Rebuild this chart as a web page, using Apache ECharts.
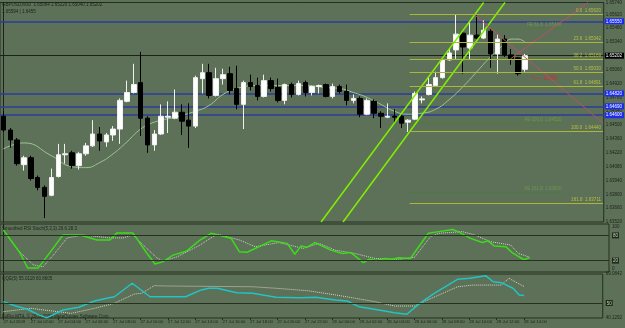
<!DOCTYPE html>
<html><head><meta charset="utf-8">
<script src="https://cdn.jsdelivr.net/npm/echarts@6/dist/echarts.min.js"></script>
<style>html,body{margin:0;padding:0;background:#5d7058;}#c{width:625px;height:328px;}</style>
</head><body><div id="c"></div>
<script>
// ---------- DATA ----------
const candleOpen  = [1.6459,1.6445,1.6435,1.6410,1.6417,1.6397,1.6387,1.6379,1.6398,1.6420,1.6422,1.6409,1.6421,1.6429,1.6441,1.6433,1.6440,1.6446,1.6474,1.6483,1.6493,1.6457,1.6430,1.6441,1.6458,1.6457,1.6463,1.6455,1.6449,1.6497,1.6503,1.6480,1.6497,1.6502,1.6487,1.6471,1.6493,1.6490,1.6479,1.6495,1.6488,1.6475,1.6491,1.6481,1.6493,1.6483,1.6489,1.6491,1.6479,1.6489,1.6484,1.6475,1.6477,1.6461,1.6474,1.6462,1.6458,1.6459,1.6459,1.6453,1.6456,1.64755,1.6481,1.6490,1.6498,1.6516,1.6526,1.6543,1.6528,1.6541,1.6538,1.6545,1.6522,1.6537,1.6521,1.6518,1.65064];
const candleClose = [1.6445,1.6435,1.6411,1.6417,1.6396,1.6387,1.6378,1.6397,1.6420,1.6421,1.6409,1.6421,1.6429,1.6441,1.6434,1.6440,1.6446,1.6475,1.6483,1.6491,1.6457,1.6430,1.6441,1.6459,1.6459,1.6463,1.6454,1.6449,1.6498,1.6503,1.6480,1.6497,1.6501,1.6485,1.6471,1.6493,1.6489,1.6479,1.6495,1.6487,1.6475,1.6491,1.6481,1.6492,1.6483,1.6489,1.6490,1.6479,1.6489,1.6484,1.6475,1.6477,1.6461,1.6475,1.6462,1.6459,1.6459,1.6458,1.6452,1.6455,1.6482,1.64765,1.6491,1.6498,1.6516,1.6523,1.6542,1.6529,1.6541,1.6538,1.6546,1.6522,1.6537,1.6521,1.6517,1.6502,1.65202];
const candleLow   = [1.6443,1.6427,1.6409,1.6404,1.6394,1.6384,1.6356,1.6378,1.6397,1.6411,1.6406,1.6405,1.6419,1.6428,1.6424,1.6428,1.6434,1.6431,1.6473,1.6482,1.6439,1.6422,1.6424,1.6440,1.6442,1.6456,1.6440,1.6427,1.6447,1.6482,1.6477,1.6479,1.6491,1.6481,1.6466,1.6446,1.6485,1.6475,1.6478,1.6484,1.6473,1.6471,1.6478,1.6480,1.6479,1.6480,1.6482,1.6478,1.6477,1.6482,1.6470,1.6472,1.6458,1.6460,1.6457,1.6447,1.6457,1.6452,1.6447,1.6443,1.6455,1.6472,1.6480,1.6489,1.6497,1.6515,1.6517,1.6502,1.6516,1.6537,1.6537,1.6508,1.6502,1.6519,1.6511,1.6500,1.65040];
const candleHigh  = [1.6464,1.6447,1.6437,1.6419,1.6419,1.6399,1.6389,1.6406,1.6431,1.6431,1.6424,1.6423,1.6432,1.6455,1.6448,1.6442,1.6449,1.6477,1.6495,1.6512,1.6524,1.6459,1.6445,1.6471,1.6474,1.6486,1.6471,1.6472,1.6500,1.6512,1.6512,1.6508,1.6507,1.6509,1.6510,1.6495,1.6501,1.6498,1.6501,1.6498,1.6497,1.6492,1.6493,1.6495,1.6495,1.6490,1.6491,1.6492,1.6492,1.6491,1.6491,1.6481,1.6479,1.6477,1.6476,1.6464,1.6472,1.6466,1.6461,1.6456,1.6484,1.6479,1.6499,1.6504,1.6517,1.6527,1.6562,1.6545,1.6554,1.6561,1.6556,1.6547,1.6542,1.6541,1.6527,1.6519,1.65220];

const timeLabels = ['27 Jul 2009','27 Jul 02:00','27 Jul 04:00','27 Jul 06:00','27 Jul 08:00','27 Jul 10:00','27 Jul 12:00','27 Jul 14:00','27 Jul 16:00','27 Jul 18:00','27 Jul 20:00','27 Jul 22:00','28 Jul 00:00','28 Jul 02:00','28 Jul 04:00','28 Jul 06:00','28 Jul 08:00','28 Jul 10:00','28 Jul 12:00','28 Jul 14:00'];
const timeLabelBars = [0,4,8,12,16,20,24,28,32,36,40,44,48,52,56,60,64,68,72,76];

// moving average [bar, price]
const maLine = [[0,1.6426],[3,1.6432],[7,1.6419],[10,1.6408],[12,1.6407],[14,1.6412],[16,1.6421],[18,1.6433],[20,1.6446],[22,1.6453],[25,1.6458],[28,1.6464],[30,1.6470],[32,1.6481],[34,1.6487],[37,1.6490],[40,1.6490],[44,1.6490],[47,1.6488],[49,1.6487],[51,1.6483],[53,1.6478],[55,1.6471],[57,1.6464],[59,1.6461],[61,1.6462],[63,1.6466],[65,1.6476],[67,1.6489],[69,1.6504],[71,1.6519],[73,1.6532],[74,1.6537],[75,1.6537],[76,1.6534]];

// horizontal levels
const blueLevels = [1.6555, 1.6482, 1.6469, 1.6460];
const bidPrice = 1.65202;
const fibNames  = ['0.0','23.6','38.2','50.0','61.8','100.0','161.8'];
const fibPrices = [1.65620,1.65342,1.65169,1.65030,1.64891,1.64440,1.63711];
const fibStartBar = 59.2;
const expNames  = ['FE 61.8','FE 100.0','FE 161.8'];
const expPrices = [1.65480,1.64520,1.63820];
const expStartBar = 59.2, expEndBar = 81.5;

// trend lines [bar, price]
const channelA = [[46.3,1.6352],[70.0,1.6574]];
const channelB = [[49.5,1.6352],[73.1,1.6574]];
const gannDown = [[68.6,1.6562],[87.4,1.6452]];
const gannUp   = [[73.9,1.6517],[85.2,1.6574]];

// RSI stoch panel [bar, value]
const rsiMain = [[0,93],[2.4,38],[3.5,2.4],[5,2.4],[5.7,17],[8.6,81],[11.1,81],[13.5,69],[15.4,69],[16.4,86],[18.7,86],[20.7,38],[21.9,12],[23,17],[24.5,33],[26.5,43],[28.4,69],[30,85],[32.9,73],[34.1,41],[35.2,40],[38.7,67],[41,61],[42.1,35],[43,55],[43.9,52],[45,63],[47.3,45],[49,37],[50.2,39],[52,15],[52.8,23],[53.9,20],[55.1,25],[56.2,23],[57.1,27],[58.8,25],[61.4,85],[62.9,89],[64.9,94],[65.7,89],[67.5,73],[69.2,63],[70,67],[70.9,55],[72.6,53],[73.5,39],[75.2,22],[76,26.6]];
const rsiSignal = [[0.5,81],[2.1,45],[4.3,10],[5.7,5],[7.2,33],[9.2,74],[11.5,81],[15.4,74],[17.3,74],[18.7,81],[20.2,57],[22.2,26],[23.1,19],[25.1,29],[28.4,57],[29.5,69],[30.9,83],[34.1,69],[36.4,53],[39.8,63],[43.3,49],[45.6,61],[47.9,45],[50.8,37],[53.7,25],[57.1,23],[59.4,28],[61.7,77],[62.9,85],[66.3,89],[68.1,81],[70.4,65],[73.3,57],[74.4,37],[76,28.3]];
const rsiLevels = [20, 80];

// QQE panel [bar, value]
const qqeMain = [[0,50.9],[1.8,48.0],[3.5,45.9],[5,42.5],[6.3,40.2],[8.7,45.4],[11,47.2],[13.3,51.3],[15.1,53.1],[16.2,54.1],[18.8,63.0],[21.4,54.1],[24.3,54.1],[26.6,54.1],[27.5,55.9],[28.9,58.6],[30,59.7],[31.2,59.7],[34.1,56.8],[36.4,56.4],[39.8,53.8],[43.3,53.5],[45.6,53.8],[48.5,52.0],[50.2,51.3],[51.9,47.6],[54.8,45.4],[57.1,43.6],[58.9,42.6],[60.6,49.1],[62.9,56.4],[66.3,65.6],[68.1,66.3],[70.4,68.0],[71.5,64.0],[72.7,63.4],[74.4,59.7],[75.3,55.3],[76,55.0]];
const qqeSignal = [[0,44.3],[4,46.5],[9.9,43.2],[13.3,46.5],[16.2,49.8],[19.1,55.9],[20.2,56.4],[22,61.4],[23.7,61.2],[36.4,60.7],[39.8,59.7],[44.4,58.1],[48.5,55.3],[51.4,53.1],[54.2,50.9],[57.1,48.0],[60,48.0],[61.7,51.5],[66.3,60.7],[68.6,61.8],[72.7,61.8],[73.8,66.3],[75.6,61.8],[76,60.9]];
const qqeLevel = 50;
const qqeMin = 40.1292, qqeMax = 69.0842;

// ---------- CHART ----------
const FONT = 'Liberation Sans';
const TXT = '#1c241a';
const nCats = 88;
const cats = [];
for (let i = 0; i < nCats; i++) cats.push(String(i));
const ohlc = candleOpen.map((o, i) => [o, candleClose[i], candleLow[i], candleHigh[i]]);

const chart = echarts.init(document.getElementById('c'), null, {renderer: 'canvas'});
const lineOnly = (color, w, type) => ({color: color, width: w, type: type || 'solid'});

function hSeg(val, color, w, labelOpt) {
  return [
    {coord: [-0.5, val], lineStyle: lineOnly(color, w), label: labelOpt || {show: false}},
    {coord: [nCats - 0.5, val]}
  ];
}
const boxLabel = (bg, val) => ({show: true, position: 'end', distance: 1, formatter: val.toFixed(5),
  color: '#ffffff', backgroundColor: bg, fontSize: 4.5, fontFamily: FONT, padding: [1, 2, 0, 1]});

const gridW = 609;
const option = {
  backgroundColor: '#5d7058',
  animation: false,
  grid: [
    {left: 0, top: 0, width: gridW, height: 222, show: true, borderColor: '#24301f', borderWidth: 1, backgroundColor: 'transparent'},
    {left: 0, top: 224, width: gridW, height: 48, show: true, borderColor: '#24301f', borderWidth: 1},
    {left: 0, top: 274, width: gridW, height: 44, show: true, borderColor: '#24301f', borderWidth: 1}
  ],
  xAxis: [
    {type: 'category', gridIndex: 0, data: cats, boundaryGap: true, show: false},
    {type: 'value', gridIndex: 0, min: -0.5, max: nCats - 0.5, show: false},
    {type: 'value', gridIndex: 1, min: -0.5, max: nCats - 0.5, show: false},
    {type: 'value', gridIndex: 2, min: -0.5, max: nCats - 0.5,
      axisLine: {show: false}, splitLine: {show: false},
      axisTick: {show: true, customValues: timeLabelBars, length: 2, lineStyle: {color: '#24301f'}},
      axisLabel: {show: true, customValues: timeLabelBars, align: 'left', margin: 2,
        formatter: v => timeLabels[timeLabelBars.indexOf(Math.round(v))] || '',
        fontSize: 4.2, fontFamily: FONT, color: TXT}}
  ],
  yAxis: [
    {type: 'value', gridIndex: 0, position: 'right', min: 1.6352, max: 1.6574, interval: 0.0014,
      axisLine: {show: true, lineStyle: {color: '#1c241a'}}, axisTick: {show: false}, splitLine: {show: false},
      axisLabel: {fontSize: 4.5, fontFamily: FONT, color: TXT, margin: 2, formatter: v => v.toFixed(5)}},
    {type: 'value', gridIndex: 1, position: 'right', min: -7.14, max: 107.14,
      axisLine: {show: true, lineStyle: {color: '#1c241a'}}, axisTick: {show: false}, splitLine: {show: false},
      axisLabel: {customValues: [0, 20, 80, 100], fontSize: 4.5, fontFamily: FONT, color: TXT, margin: 3,
        formatter: v => (v === 20 || v === 80) ? '{b|' + v + '}' : String(v),
        rich: {b: {backgroundColor: '#1f2a1c', color: '#c8d0c0', fontSize: 4.5, padding: [1, 1, 0, 1]}}}},
    {type: 'value', gridIndex: 2, position: 'right', min: qqeMin, max: qqeMax,
      axisLine: {show: true, lineStyle: {color: '#1c241a'}}, axisTick: {show: false}, splitLine: {show: false},
      axisLabel: {customValues: [qqeMin, qqeLevel, qqeMax], fontSize: 4.5, fontFamily: FONT, color: TXT, margin: 3,
        formatter: v => v === qqeLevel ? '{b|50}' : v.toFixed(4),
        rich: {b: {backgroundColor: '#1f2a1c', color: '#c8d0c0', fontSize: 4.5, padding: [1, 1, 0, 1]}}}}
  ],
  series: [
    {type: 'line', xAxisIndex: 1, yAxisIndex: 0, data: maLine, smooth: 0.5, symbol: 'none',
      lineStyle: lineOnly('#9cc694', 1), z: 1,
      markLine: {silent: true, symbol: 'none', animation: false, z: 1, data: [
        ...blueLevels.map(v => hSeg(v, '#2b3d9c', 1.5, boxLabel('#1a2cf0', v))),
        hSeg(bidPrice, '#1a2316', 1, boxLabel('#000000', bidPrice)),
        ...expPrices.map((p, k) => [
          {coord: [expStartBar, p], lineStyle: lineOnly('#4f7a3c', 1),
            label: {show: true, position: 'insideEndTop', distance: [1, 1], formatter: expNames[k] + '  ' + p.toFixed(5),
              color: '#6e9a48', fontSize: 4.5, fontFamily: FONT}},
          {coord: [expEndBar, p]}
        ])
      ]}},
    {type: 'candlestick', xAxisIndex: 0, yAxisIndex: 0, data: ohlc, barWidth: 5, z: 2,
      itemStyle: {color: '#ffffff', color0: '#000000', borderColor: '#f0f0f0', borderColor0: '#000000', borderWidth: 1}},
    {type: 'line', xAxisIndex: 1, yAxisIndex: 0, data: channelA, symbol: 'none', lineStyle: lineOnly('#7ff000', 1.5), z: 4},
    {type: 'line', xAxisIndex: 1, yAxisIndex: 0, data: channelB, symbol: 'none', lineStyle: lineOnly('#7ff000', 1.5), z: 4},
    {type: 'line', xAxisIndex: 1, yAxisIndex: 0, data: gannDown, symbol: 'none', lineStyle: lineOnly('#b8506e', 1), z: 4},
    {type: 'line', xAxisIndex: 1, yAxisIndex: 0, data: gannUp, symbol: 'none', lineStyle: lineOnly('#b8506e', 1), z: 4,
      markLine: {silent: true, symbol: 'none', animation: false,
        data: fibPrices.map((p, k) => [
          {coord: [fibStartBar, p], lineStyle: lineOnly('#aab83a', 1),
            label: {show: true, position: 'insideEndTop', distance: [2, 1], formatter: fibNames[k] + '  ' + p.toFixed(5),
              color: '#b4c040', fontSize: 4.5, fontFamily: FONT}},
          {coord: [nCats - 0.6, p]}
        ])}},
    {type: 'line', xAxisIndex: 2, yAxisIndex: 1, data: rsiSignal, symbol: 'none', lineStyle: lineOnly('#d0d4c4', 1, 'dotted'), z: 3},
    {type: 'line', xAxisIndex: 2, yAxisIndex: 1, data: rsiMain, symbol: 'none', lineStyle: lineOnly('#3cdc1c', 1.5), z: 4,
      markLine: {silent: true, symbol: 'none', animation: false, data: rsiLevels.map(v => hSeg(v, '#26321f', 1.2))}},
    {type: 'line', xAxisIndex: 3, yAxisIndex: 2, data: qqeSignal, symbol: 'none', lineStyle: lineOnly('#d4d8c8', 1, 'dotted'), z: 3},
    {type: 'line', xAxisIndex: 3, yAxisIndex: 2, data: qqeMain, symbol: 'none', lineStyle: lineOnly('#22c4c4', 1.5), z: 4,
      markLine: {silent: true, symbol: 'none', animation: false, data: [hSeg(qqeLevel, '#26321f', 1.2)]}}
  ],
  graphic: [
    {type: 'text', left: 2, top: 2, style: {text: 'GBPUSD,M30  1.65064 1.65220 1.65040 1.65202', fontSize: 4.5, fontFamily: FONT, fill: TXT}},
    {type: 'text', left: 2, top: 9, style: {text: '1.65594 | 1.6455', fontSize: 4.5, fontFamily: FONT, fill: TXT}},
    {type: 'text', left: 2, top: 226, style: {text: 'Smoothed RSI Stoch(5,3,3) 26.6 28.3', fontSize: 4.5, fontFamily: FONT, fill: TXT}},
    {type: 'text', left: 2, top: 276, style: {text: 'QQE(5) 55.0118 60.8605', fontSize: 4.5, fontFamily: FONT, fill: TXT}},
    {type: 'text', left: 2, top: 314, style: {text: 'FxPro MT4, \u00a9 2001-2009 MetaQuotes Software Corp.', fontSize: 4.5, fontFamily: FONT, fill: TXT}},
    {type: 'text', left: 531, top: 75, style: {text: '^\u2014 2:59', fontSize: 7, fontFamily: FONT, fill: '#e02828'}}
  ]
};
chart.setOption(option);
</script></body></html>
